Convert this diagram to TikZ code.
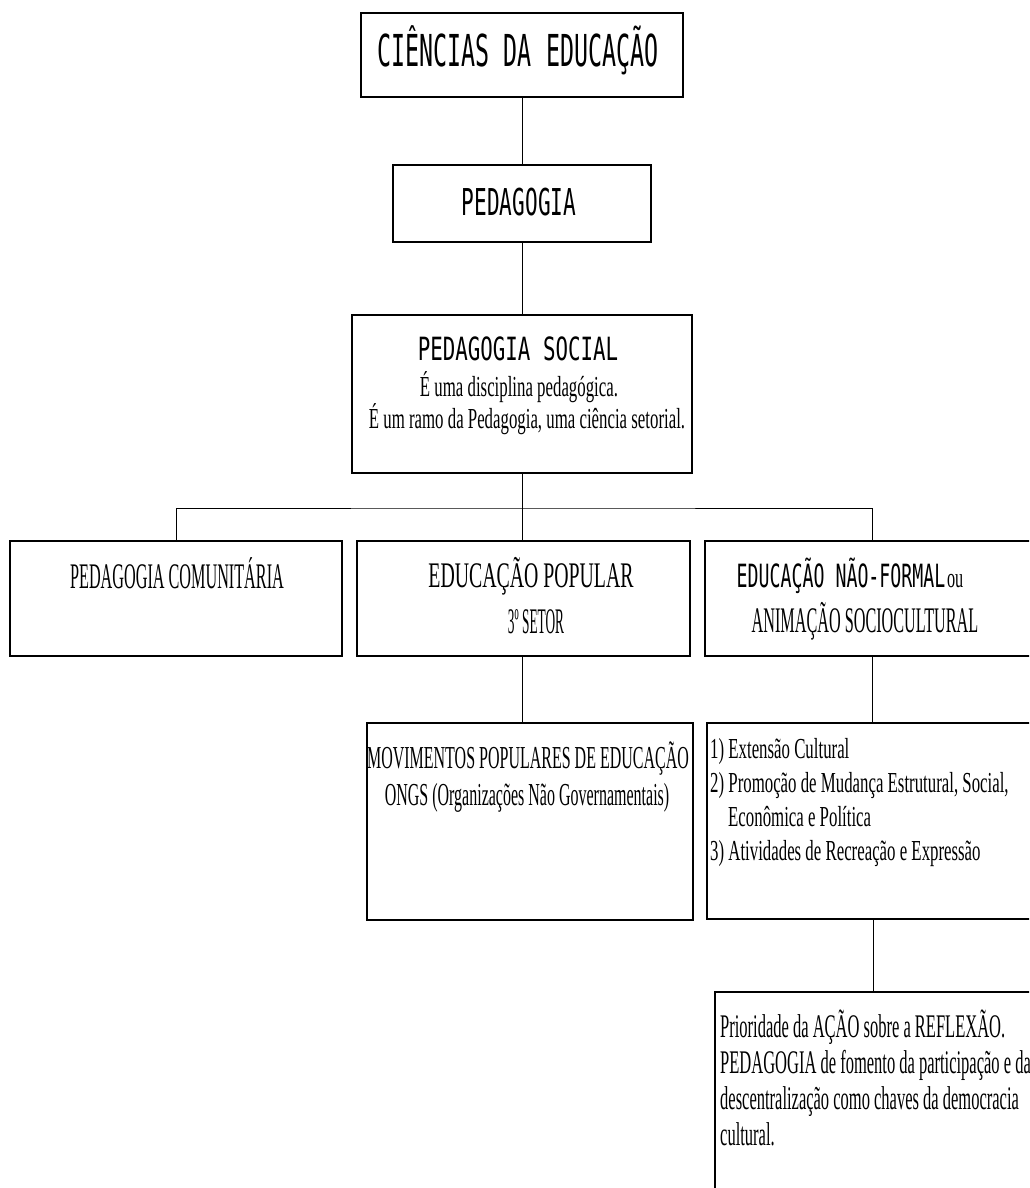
\documentclass[tikz,border=0pt]{standalone}
\usepackage{fontspec}
\setmainfont{Liberation Serif}
\newfontfamily\monA[FakeStretch=0.53]{DejaVu Sans Mono}
\newfontfamily\monB[FakeStretch=0.57]{DejaVu Sans Mono}
\newfontfamily\monC[FakeStretch=0.65]{DejaVu Sans Mono}
\newfontfamily\serA[FakeStretch=0.58]{Liberation Serif}
\newfontfamily\serB[FakeStretch=0.50]{Liberation Serif}
\newfontfamily\serC[FakeStretch=0.45]{Liberation Serif}
\newfontfamily\serD[FakeStretch=0.37]{Liberation Serif}
\newfontfamily\serE[FakeStretch=0.55]{Liberation Serif}
\begin{document}
\begin{tikzpicture}[x=1pt,y=-1pt,
  box/.style={draw, line width=1.7pt, inner sep=0pt},
  conn/.style={line width=1pt},
  txt/.style={inner sep=0pt, anchor=base},
  txtl/.style={inner sep=0pt, anchor=base west}]
\useasboundingbox (0,0) rectangle (1029,1188);
\clip (0,0) rectangle (1029,1188);
\fill[white] (0,0) rectangle (1029,1188);

% boxes
\node[box, minimum width=322pt, minimum height=84pt] (title) at (522,55) {};
\node[box, minimum width=258pt, minimum height=77pt] (ped) at (522,203.5) {};
\node[box, minimum width=340pt, minimum height=158pt] (pedsoc) at (522,394) {};
\node[box, minimum width=332pt, minimum height=115pt] (comu) at (176,598.5) {};
\node[box, minimum width=333pt, minimum height=115pt] (popu) at (523.5,598.5) {};
\node[box, minimum width=335pt, minimum height=115pt] (nform) at (872.5,598.5) {};
\node[box, minimum width=326pt, minimum height=197pt] (movi) at (530,821.5) {};
\node[box, minimum width=333pt, minimum height=196pt] (ativ) at (873.5,821) {};
\node[box, minimum width=330pt, minimum height=208pt] (prio) at (880,1096) {};

% connectors
\coordinate (bar) at (522,508);
\draw[conn] (title.south) -- (ped.north);
\draw[conn] (ped.south) -- (pedsoc.north);
\draw[conn] (pedsoc.south) -- (pedsoc.south |- popu.north);
\draw[conn] (comu.north) |- (bar) -| (nform.north);
\draw[conn] (popu.south -| bar) -- (movi.north -| bar);
\draw[conn] (nform.south) -- (nform.south |- ativ.north);
\draw[conn] (ativ.south) -- (ativ.south |- prio.north);

% texts
\node[txt, font=\monA\fontsize{44}{44}\selectfont] (t1) at (518,67) {CIÊNCIAS DA EDUCAÇÃO};
\node[txt, font=\monB\fontsize{37}{37}\selectfont] (t2) at (519,215) {PEDAGOGIA};
\node[txt, font=\monC\fontsize{32}{32}\selectfont] (t3) at (518,360) {PEDAGOGIA SOCIAL};
\node[txt, font=\serA\fontsize{29}{29}\selectfont] (t3a) at (519,396) {É uma disciplina pedagógica.};
\node[txt, font=\serA\fontsize{29}{29}\selectfont] (t3b) at (527,428) {É um ramo da Pedagogia, uma ciência setorial.};

\node[txt, font=\serC\fontsize{36}{36}\selectfont] (ta) at (177,588) {PEDAGOGIA COMUNITÁRIA};
\node[txt, font=\serE\fontsize{36}{36}\selectfont] (tb1) at (531,587) {EDUCAÇÃO POPULAR};
\node[txt, font=\serD\fontsize{36}{36}\selectfont] (tb2) at (536,633) {3º SETOR};
\node[txt] (tc1) at (850,587) {{\monB\fontsize{32}{32}\selectfont EDUCAÇÃO NÃO-FORMAL}\,{\serA\fontsize{28}{28}\selectfont ou}};
\node[txt, font=\serC\fontsize{36}{36}\selectfont] (tc2) at (865,632) {ANIMAÇÃO SOCIOCULTURAL};

\node[txt, font=\serB\fontsize{32}{32}\selectfont] (td1) at (528,768) {MOVIMENTOS POPULARES DE EDUCAÇÃO};
\node[txt, font=\serB\fontsize{32}{32}\selectfont] (td2) at (527,805) {ONGS (Organizações Não Governamentais)};

\node[txtl, font=\serA\fontsize{29}{29}\selectfont] (te1) at (710,758) {1) Extensão Cultural};
\node[txtl, font=\serA\fontsize{29}{29}\selectfont] (te2) at (710,792) {2) Promoção de Mudança Estrutural, Social,};
\node[txtl, font=\serA\fontsize{29}{29}\selectfont] (te3) at (728,826) {Econômica e Política};
\node[txtl, font=\serA\fontsize{29}{29}\selectfont] (te4) at (710,860) {3) Atividades de Recreação e Expressão};

\node[txtl, font=\serB\fontsize{33}{33}\selectfont] (tf1) at (720,1037) {Prioridade da AÇÃO sobre a REFLEXÃO.};
\node[txtl, font=\serB\fontsize{33}{33}\selectfont] (tf2) at (720,1073) {PEDAGOGIA de fomento da participação e da};
\node[txtl, font=\serB\fontsize{33}{33}\selectfont] (tf3) at (720,1109) {descentralização como chaves da democracia};
\node[txtl, font=\serB\fontsize{33}{33}\selectfont] (tf4) at (720,1145) {cultural.};
\end{tikzpicture}
\end{document}
